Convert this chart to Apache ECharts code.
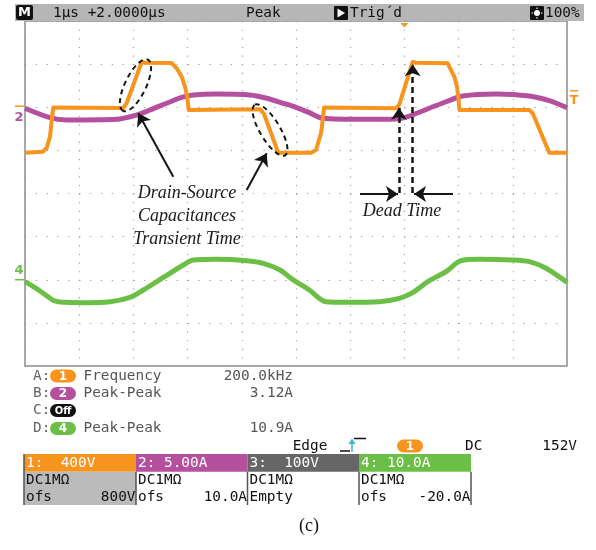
<!DOCTYPE html>
<html><head><meta charset="utf-8">
<script src="https://cdn.jsdelivr.net/npm/echarts@6/dist/echarts.min.js"></script>
<style>html,body{margin:0;padding:0;background:#fff}#c{width:596px;height:550px}</style>
</head><body><div id="c"></div>
<script>
// ---- data (time in µs, 1 µs/div) ----
const orangeT = [0,0.327,0.400,0.461,0.493,0.522,1.814,1.876,2.153,2.214,2.707,2.799,2.891,2.952,2.994,3.020,4.336,4.410,4.673,5.277,5.369,5.461,5.493,5.517,6.845,6.906,7.153,7.214,7.799,7.860,7.921,7.970,7.995,8.014,9.305,9.367,9.673,10];
const orangeV = [-422,-412,-378,-273,-118,-2,-8,39,420,413,410,361,283,191,98,-25,-19,-63,-422,-422,-397,-242,-118,-2,-10,25,420,413,408,345,283,191,98,-25,-25,-56,-422,-422];
const purpleT = [0,0.461,0.769,1.692,2.061,2.306,2.614,2.891,3.105,3.537,4.151,4.459,4.766,5.000,5.245,5.493,6.231,6.845,7.090,7.459,7.768,8.076,8.690,9.305,9.673,10];
const purpleA = [-0.12,-1.21,-1.48,-1.40,-0.90,-0.32,0.46,1.15,1.42,1.53,1.42,1.04,0.46,-0.01,-0.63,-1.28,-1.40,-1.36,-1.02,-0.12,0.64,1.30,1.53,1.30,0.76,-0.05];
const greenT = [0,0.153,0.338,0.554,0.769,1.076,1.568,1.937,2.183,2.430,2.675,2.921,3.105,3.537,4.090,4.397,4.705,4.900,5.000,5.245,5.554,5.923,6.537,6.906,7.153,7.459,7.768,8.044,8.382,8.998,9.305,9.613,10];
const greenA = [-0.45,-1.61,-3.14,-4.93,-5.23,-5.32,-5.09,-4.07,-2.38,-0.45,1.50,3.42,4.58,4.74,4.42,3.81,2.26,0.41,-0.45,-2.38,-5.09,-5.23,-5.09,-4.30,-3.00,-0.22,1.87,4.42,4.74,4.58,4.19,2.66,-0.60];

// channel settings (per division) and screen ranges
const ch1Range = [-2400, 800];   // 400 V/div, 8 div
const ch2Range = [-30, 10];      // 5 A/div
const ch4Range = [-20, 60];      // 10 A/div
const trigLevel = 152, trigTime = 7;

// annotation arrows [t1, v1, t2, v2] in ch1 units
const solidArrows = [[2.736,-644,2.090,-56],[4.090,-768,4.459,-427],[6.181,-805,6.882,-805],[7.897,-805,7.177,-805]];
const dashedArrows = [[6.900,-795,6.900,-4],[7.153,-795,7.153,398]];

// measurement panel texts
const measLabels = ['A:','B:','C:','D:'];
const measBadges = [['1','#f7941d'],['2','#b5509f'],['Off','#111111'],['4','#6bbf46']];
const measNames = ['Frequency','Peak-Peak','','Peak-Peak'];
const measValues = ['200.0kHz','3.12A','','10.9A'];
const chHeaders = ['1:  400V','2: 5.00A','3:  100V','4: 10.0A'];
const chColors = ['#f7941d','#b5509f','#666666','#6bbf46'];
const chOfs = [['ofs','800V'],['ofs','10.0A'],['Empty',''],['ofs','-20.0A']];

const zip = (a, b) => a.map((v, i) => [v, b[i]]);
const MONO = '14.4px "DejaVu Sans Mono", "Liberation Mono", monospace';
const SERIF_I = 'italic 18px "Liberation Serif", "DejaVu Serif", serif';

const chart = echarts.init(document.getElementById('c'));
const hidden = {show:false};
chart.setOption({
  animation:false,
  backgroundColor:'#ffffff',
  grid:{left:25, top:21, width:542, height:345, show:true, borderColor:'#8c8c8c', borderWidth:1.5, backgroundColor:'#ffffff'},
  xAxis:[{type:'value', min:0, max:10, interval:1, axisLine:hidden, axisTick:hidden, axisLabel:hidden,
    splitLine:{show:true, lineStyle:{color:'#9a9a9a', width:1.2, type:[1.2,7.425]}}}],
  yAxis:[
    {type:'value', min:0, max:8, interval:1, axisLine:hidden, axisTick:hidden, axisLabel:hidden,
      splitLine:{show:true, lineStyle:{color:'#9a9a9a', width:1.2, type:[1.2,9.64]}}},
    {type:'value', min:ch1Range[0], max:ch1Range[1], show:false, splitLine:hidden},
    {type:'value', min:ch2Range[0], max:ch2Range[1], show:false, splitLine:hidden},
    {type:'value', min:ch4Range[0], max:ch4Range[1], show:false, splitLine:hidden}
  ],
  series:[
    {type:'line', yAxisIndex:3, data:zip(greenT, greenA), showSymbol:false, smooth:0.3,
      lineStyle:{color:'#6bbf46', width:5}, silent:true, z:2},
    {type:'line', yAxisIndex:2, data:zip(purpleT, purpleA), showSymbol:false, smooth:0.3,
      lineStyle:{color:'#b5509f', width:5}, silent:true, z:3},
    {type:'line', yAxisIndex:1, data:zip(orangeT, orangeV), showSymbol:false,
      lineStyle:{color:'#f7941d', width:4, join:'round'}, silent:true, z:4},
    {type:'line', yAxisIndex:1, data:[], silent:true, z:6,
      markLine:{silent:true, animation:false, symbol:['none','arrow'], symbolSize:12, label:{show:false},
        lineStyle:{color:'#151515', width:2, type:'solid'}, emphasis:{disabled:true},
        data:solidArrows.map(a => [{coord:[a[0],a[1]]},{coord:[a[2],a[3]]}])}},
    {type:'line', yAxisIndex:1, data:[], silent:true, z:6,
      markLine:{silent:true, animation:false, symbol:['none','arrow'], symbolSize:12, label:{show:false},
        lineStyle:{color:'#151515', width:2.5, type:[6,4]}, emphasis:{disabled:true},
        data:dashedArrows.map(a => [{coord:[a[0],a[1]]},{coord:[a[2],a[3]]}])}}
  ]
});

const yPx = (axis, v) => chart.convertToPixel({yAxisIndex:axis}, v);
const xPx = t => chart.convertToPixel({xAxisIndex:0}, t);

const g = [];
const txt = (x, y, text, fill, font, align) => g.push({type:'text', x, y, z:100,
  style:{text, fill, font: font || MONO, align: align || 'left', verticalAlign:'middle'}});
const rect = (x, y, w, h, fill, r) => g.push({type:'rect', z:99, shape:{x, y, width:w, height:h, r: r || 0}, style:{fill}});
const line = (x1, y1, x2, y2, stroke, w) => g.push({type:'line', z:100, shape:{x1, y1, x2, y2}, style:{stroke, lineWidth: w || 1}});
const badge = (x, yc, label, color) => {
  rect(x, yc - 6.5, 26, 13, color, 6.5);
  txt(x + 13, yc + 0.5, label, '#fff', 'bold ' + (label.length > 1 ? '10px' : '12px') + ' "DejaVu Sans", sans-serif', 'center');
};

// top status bar
rect(15, 4, 569, 17, '#b6b6b6');
rect(16, 5, 17, 15, '#111', 2);
txt(24.5, 13, 'M', '#fff', 'bold 13px "DejaVu Sans", sans-serif', 'center');
txt(53, 13, '1µs +2.0000µs', '#111');
txt(246, 13, 'Peak', '#111');
rect(334, 6, 14, 14, '#111', 1);
g.push({type:'polygon', z:101, shape:{points:[[337.5,8.5],[337.5,17.5],[345,13]]}, style:{fill:'#fff'}});
txt(350, 13, 'Trig´d', '#111');
rect(530, 6, 14, 14, '#111', 1);
g.push({type:'circle', z:101, shape:{cx:537, cy:13, r:3}, style:{fill:'#fff'}});
[[537,7.5,537,9],[537,17,537,18.5],[531.5,13,533,13],[541,13,542.5,13]].forEach(l => g.push({type:'line', z:101, shape:{x1:l[0],y1:l[1],x2:l[2],y2:l[3]}, style:{stroke:'#fff', lineWidth:1.2}}));
txt(545, 13, '100%', '#111');

// channel markers
const z1 = yPx(1, 0), z4 = yPx(3, 0), tl = yPx(1, trigLevel), tx = xPx(trigTime);
line(15, z1 - 1, 24, z1 - 1, '#f7941d', 1.5);
txt(19, z1 + 10.5, '2', '#b5509f', 'bold 13px "DejaVu Sans", sans-serif', 'center');
line(15, z4, 24, z4, '#6bbf46', 1.5);
txt(19, z4 - 9.5, '4', '#6bbf46', 'bold 13px "DejaVu Sans", sans-serif', 'center');
line(570, tl, 578, tl, '#f7941d', 1.5);
txt(574, tl + 9.5, 'T', '#f7941d', 'bold 13px "DejaVu Sans", sans-serif', 'center');
g.push({type:'polygon', z:101, shape:{points:[[tx-4,23],[tx+4,23],[tx,27.5]]}, style:{fill:'#f7941d'}});

// annotation ellipses and texts
g.push({type:'ellipse', z:102, x:135.5, y:85.3, rotation:1.12, shape:{cx:0, cy:0, rx:28.5, ry:10.5},
  style:{fill:'none', stroke:'#151515', lineWidth:2, lineDash:[5,4]}});
g.push({type:'ellipse', z:102, x:270, y:130, rotation:-1.03, shape:{cx:0, cy:0, rx:29.5, ry:10},
  style:{fill:'none', stroke:'#151515', lineWidth:2, lineDash:[5,4]}});
txt(187, 193, 'Drain-Source', '#1a1a1a', SERIF_I, 'center');
txt(187, 216, 'Capacitances', '#1a1a1a', SERIF_I, 'center');
txt(187, 239, 'Transient Time', '#1a1a1a', SERIF_I, 'center');
txt(402, 211, 'Dead Time', '#1a1a1a', SERIF_I, 'center');

// measurement list
const rowY = [376, 393.5, 410.5, 428.5];
rowY.forEach((y, i) => {
  txt(33, y, measLabels[i], '#666');
  badge(50, y, measBadges[i][0], measBadges[i][1]);
  if (measNames[i]) txt(83.5, y, measNames[i], '#555');
  if (measValues[i]) txt(293, y, measValues[i], '#555', MONO, 'right');
});

// trigger line
txt(292.7, 446, 'Edge', '#111');
line(340, 451, 350, 451, '#111', 1.5);
line(354, 438.5, 366, 438.5, '#111', 1.5);
line(352, 452, 352, 442, '#39b6e0', 1.5);
g.push({type:'polygon', z:101, shape:{points:[[348.5,444],[355.5,444],[352,438.5]]}, style:{fill:'#39b6e0'}});
badge(397, 446, '1', '#f7941d');
txt(465, 446, 'DC', '#111');
txt(577, 446, '152V', '#111', MONO, 'right');

// channel table
const colX = [24, 136, 247.5, 359, 471];
for (let i = 0; i < 4; i++) {
  const x0 = colX[i], w = colX[i+1] - colX[i];
  rect(x0, 454, w, 17.7, chColors[i]);
  if (i === 0) rect(x0, 471.7, w, 33.3, '#bbbbbb');
  txt(x0 + 2, 463, chHeaders[i], '#fff');
  txt(x0 + 2, 480, 'DC1MΩ', '#111');
  txt(x0 + 2, 497, chOfs[i][0], '#111');
  if (chOfs[i][1]) txt(colX[i+1] - 0.5, 497, chOfs[i][1], '#111', MONO, 'right');
}
[136, 247.5, 359, 471].forEach(x => line(x, 471.7, x, 505, '#555', 1.5));
line(24, 454, 24, 505, '#555', 1.5);

txt(309, 526, '(c)', '#111', '18px "Liberation Serif", serif', 'center');

chart.setOption({graphic: g});
</script></body></html>
